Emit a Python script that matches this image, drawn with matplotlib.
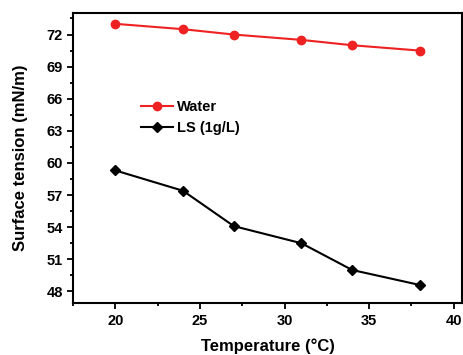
import matplotlib
matplotlib.use("Agg")
import matplotlib.pyplot as plt
from matplotlib.ticker import MultipleLocator

plt.rcParams["font.family"] = ["Liberation Sans", "DejaVu Sans"]
plt.rcParams["font.weight"] = "bold"

temperature = [20, 24, 27, 31, 34, 38]
water = [73.0, 72.5, 72.0, 71.5, 71.0, 70.5]
ls_1gl = [59.3, 57.4, 54.1, 52.5, 50.0, 48.6]

fig = plt.figure(figsize=(4.63, 3.55), dpi=100)
ax = fig.add_axes([0.158, 0.146, 0.840, 0.817])

ax.plot(temperature, water, color="#ee2222", marker="o", ms=6, lw=1.5, label="Water")
ax.plot(temperature, ls_1gl, color="black", marker="D", ms=5, lw=1.5, label="LS (1g/L)")

ax.set_xlim(17.5, 40.5)
ax.set_ylim(46.9, 74.0)
ax.xaxis.set_major_locator(MultipleLocator(5))
ax.xaxis.set_minor_locator(MultipleLocator(2.5))
ax.yaxis.set_major_locator(MultipleLocator(3))
ax.yaxis.set_minor_locator(MultipleLocator(1.5))
ax.tick_params(which="both", direction="out", top=False, right=False, labelsize=10.5, width=1.3)
ax.tick_params(which="major", length=4)
ax.tick_params(which="minor", length=2.5)
for s in ax.spines.values():
    s.set_linewidth(1.5)

ax.set_xlabel("Temperature (°C)", fontsize=12, fontweight="bold", labelpad=8)
ax.set_ylabel("Surface tension (mN/m)", fontsize=12, fontweight="bold", labelpad=13)

ax.legend(loc="upper left", bbox_to_anchor=(0.14, 0.745), frameon=False, fontsize=10.5,
          handlelength=2.2, handletextpad=0.3, labelspacing=0.45)

fig.savefig("out.png", dpi=100)
